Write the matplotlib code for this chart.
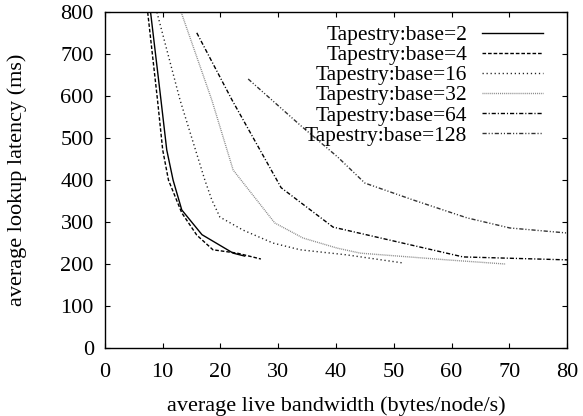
import matplotlib
matplotlib.use("Agg")
import matplotlib.pyplot as plt

# values
base2_x = [7.9, 9.7, 10.7, 11.8, 13.3, 16.8, 22.2, 24.2]
base2_y = [800, 591, 472, 400, 329, 270, 226, 219]

base4_x = [7.4, 9.1, 10.0, 11.0, 13.3, 15.9, 18.7, 22.9, 27.0]
base4_y = [800, 591, 472, 400, 322, 269, 234, 226, 212]

base16_x = [9.0, 13.0, 17.3, 18.5, 19.9, 23.9, 29.1, 33.8, 41.8, 51.4]
base16_y = [800, 591, 400, 353, 312, 281, 250, 234, 222, 203]

base32_x = [13.2, 18.5, 22.2, 29.4, 34.3, 40.2, 44.2, 59.2, 69.4]
base32_y = [800, 591, 424, 298, 262, 238, 226, 210, 200]

base64_x = [15.9, 22.0, 30.5, 39.5, 50.6, 62.0, 80.0]
base64_y = [751, 591, 382, 288, 253, 217, 210]

base128_x = [24.8, 33.8, 40.3, 45.0, 53.3, 62.7, 70.1, 80.0]
base128_y = [641, 531, 455, 393, 353, 310, 286, 274]

x_ticks = [0, 10, 20, 30, 40, 50, 60, 70, 80]
y_ticks = [0, 100, 200, 300, 400, 500, 600, 700, 800]

plt.rcParams.update(
    {
        "font.family": "serif",
        "font.serif": ["Liberation Serif", "DejaVu Serif"],
        "font.size": 16,
    }
)

fig = plt.figure(figsize=(5.83, 4.16), dpi=100)
ax = fig.add_axes([0.180, 0.1635, 0.7926, 0.807])

ax.plot(base2_x, base2_y, color="black", lw=1.0, ls="-", label="Tapestry:base=2")
ax.plot(base4_x, base4_y, color="black", lw=1.0, ls=(0, (2.6, 1.4)),
        label="Tapestry:base=4")
ax.plot(base16_x, base16_y, color="#222222", lw=1.0, ls=(0, (0.9, 2.0)),
        label="Tapestry:base=16")
ax.plot(base32_x, base32_y, color="#888888", lw=1.0, ls=(0, (0.7, 0.7)),
        label="Tapestry:base=32")
ax.plot(base64_x, base64_y, color="black", lw=1.0,
        ls=(0, (3.0, 1.4, 0.8, 1.4)), label="Tapestry:base=64")
ax.plot(base128_x, base128_y, color="#333333", lw=1.0,
        ls=(0, (3.0, 1.4, 0.8, 1.4, 0.8, 1.4)), label="Tapestry:base=128")

ax.set_xlim(0, 80)
ax.set_ylim(0, 800)
ax.set_xticks(x_ticks)
ax.set_yticks(y_ticks)
ax.tick_params(axis="both", direction="in", top=True, right=True,
               length=3.5, width=0.8, labelsize=16)
ax.tick_params(axis="x", pad=11)
ax.tick_params(axis="y", pad=8)
for s in ax.spines.values():
    s.set_linewidth(1.0)

ax.set_xlabel("average live bandwidth (bytes/node/s)", fontsize=16, labelpad=10)
ax.set_ylabel("average lookup latency (ms)", fontsize=16, labelpad=24)

ax.legend(loc="upper right", markerfirst=False, frameon=False, fontsize=15.5,
          handlelength=2.8, handletextpad=0.7, labelspacing=0.0,
          borderaxespad=0.3, borderpad=0.3, bbox_to_anchor=(0.975, 1.0))

fig.savefig("out.png", dpi=100)
